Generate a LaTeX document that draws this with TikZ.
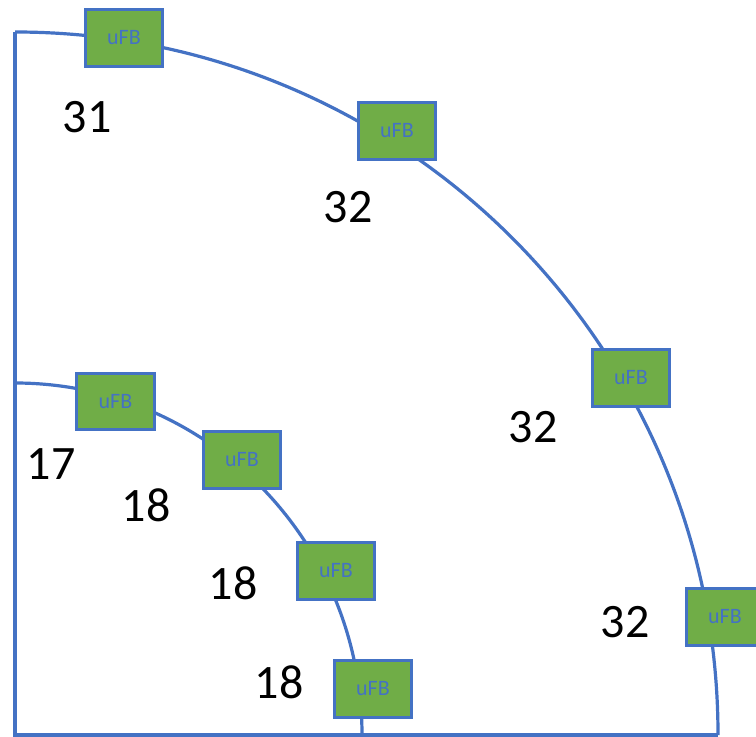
\documentclass[tikz,border=0pt]{standalone}
\usepackage{fontspec}
\setmainfont{Carlito}
\definecolor{ufbblue}{HTML}{4472C4}
\definecolor{ufbgreen}{HTML}{70AD47}
\def\Rout{527.25pt}
\def\Rinx{260.25pt}
\def\Riny{264pt}

\begin{document}
\begin{tikzpicture}[x=0.75pt,y=-0.75pt,
    ufb/.style={draw=ufbblue,line width=2.4pt,fill=ufbgreen,minimum width=58pt,
      minimum height=42.5pt,inner sep=0pt,text=ufbblue,font=\fontsize{16.5}{19}\selectfont},
    num/.style={inner sep=0pt,font=\fontsize{36}{43}\selectfont}]
        \useasboundingbox (0,0) rectangle (756,737);
        %
        \draw[ufbblue,line width=2.4pt] (15,32) -- (15,735) -- (718,735); % axes
        \draw[ufbblue,line width=2.4pt] (15,32) arc[start angle=90,end angle=0,radius=\Rout]; % outer
        \draw[ufbblue,line width=2.4pt] (15,383) arc[start angle=90,end angle=0,x radius=\Rinx,y radius=\Riny]; % inner
        %
        % outer ring
        \node[ufb] (o1) at (124,38) {uFB};
        \node[ufb] (o2) at (397,131) {uFB};
        \node[ufb] (o3) at (631,378) {uFB};
        \node[ufb] (o4) at (725,617) {uFB};
        %
        % inner ring
        \node[ufb] (i1) at (115.5,401.5) {uFB};
        \node[ufb] (i2) at (242,460) {uFB};
        \node[ufb] (i3) at (336,571) {uFB};
        \node[ufb] (i4) at (373,689) {uFB};
        %
        \node[num] (n31) at (87,117) {31};
        \node[num] (n32a) at (348,207) {32};
        \node[num] (n32b) at (533,427) {32};
        \node[num] (n32c) at (625,622) {32};
        \node[num] (n17) at (51,464) {17};
        \node[num] (n18a) at (146,505) {18};
        \node[num] (n18b) at (233,583) {18};
        \node[num] (n18c) at (279,682) {18};
      \end{tikzpicture}
\end{document}
